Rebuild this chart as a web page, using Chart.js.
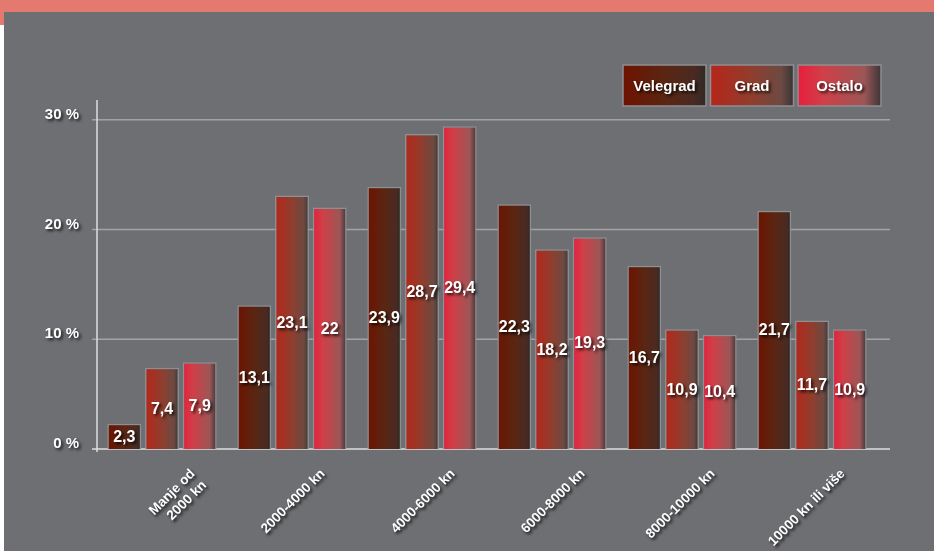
<!DOCTYPE html>
<html>
<head>
<meta charset="utf-8">
<script src="https://cdn.jsdelivr.net/npm/chart.js@4.4.0/dist/chart.umd.min.js"></script>
<style>
    body { margin:0; background:#fff; width:934px; height:551px; overflow:hidden; position:relative; }
    /*gornja traka i ploca grafikona*/
    .traka { position:absolute; left:0; top:0; width:934px; height:12px; background:#e4796f; }
    .rub { position:absolute; left:0; top:0; width:4px; height:25px; background:#e4796f; }
    .ploca { position:absolute; left:4px; top:12px; width:930px; height:539px; background:#6e6f73; }
</style>
</head>
<body>
<div class="traka"></div>
<div class="rub"></div>
<div class="ploca"><canvas id="grafikon" width="930" height="539"></canvas></div>

<script>
const kategorije = [['Manje od', '2000 kn'], '2000-4000 kn', '4000-6000 kn', '6000-8000 kn', '8000-10000 kn', '10000 kn ili više'];
const velegrad = [2.3, 13.1, 23.9, 22.3, 16.7, 21.7];
const grad = [7.4, 23.1, 28.7, 18.2, 10.9, 11.7];
const ostalo = [7.9, 22, 29.4, 19.3, 10.4, 10.9];
const yOznake = [0, 10, 20, 30];

const FONT = '"Liberation Sans", Arial, sans-serif';
// gradijenti stupaca, lijevo -> desno
const boje = [
    [[0, '#6e1300'], [0.5, '#5a2612'], [0.85, '#4a2a22'], [1, '#2f2927']],
    [[0, '#b6261a'], [0.5, '#8f3e2e'], [0.85, '#6c4a42'], [1, '#3a3434']],
    [[0, '#e81e3c'], [0.3, '#cf4048'], [0.8, '#9c5656'], [1, '#3d3537']]
];

function sjena(ctx, on) {
    ctx.shadowColor = on ? 'rgba(0,0,0,0.8)' : 'transparent';
    ctx.shadowOffsetX = on ? 2 : 0;
    ctx.shadowOffsetY = on ? 2 : 0;
    ctx.shadowBlur = on ? 3 : 0;
}

function gradijent(ctx, x0, x1, i) {
    const g = ctx.createLinearGradient(x0, 0, x1, 0);
    boje[i].forEach(s => g.addColorStop(s[0], s[1]));
    return g;
}

const ukrasi = {
    id: 'ukrasi',
    beforeDraw(chart) {
        const ctx = chart.ctx, a = chart.chartArea, y = chart.scales.y;
        const desno = 886;
        ctx.save();
        ctx.lineWidth = 1.5;
        ctx.strokeStyle = '#a2a3a6';
        yOznake.forEach(v => {
            if (v === 0) return;
            const py = y.getPixelForValue(v);
            ctx.beginPath(); ctx.moveTo(a.left - 5, py); ctx.lineTo(desno, py); ctx.stroke();
        });
        ctx.strokeStyle = '#dedede';
        ctx.beginPath(); ctx.moveTo(a.left, a.top); ctx.lineTo(a.left, a.bottom + 3); ctx.stroke();
        const b = y.getPixelForValue(0);
        ctx.beginPath(); ctx.moveTo(a.left - 5, b); ctx.lineTo(desno, b); ctx.stroke();
        ctx.restore();
        sjena(ctx, true);
    },
    beforeDatasetsDraw(chart) {
        const ctx = chart.ctx;
        sjena(ctx, false);
        chart.data.datasets.forEach((ds, i) => {
            chart.getDatasetMeta(i).data.forEach(el => {
                el.options.backgroundColor = gradijent(ctx, el.x - el.width / 2, el.x + el.width / 2, i);
            });
        });
    },
    afterDatasetsDraw(chart) {
        const ctx = chart.ctx;
        ctx.save();
        sjena(ctx, true);
        ctx.fillStyle = '#fff';
        ctx.font = 'bold 16px ' + FONT;
        ctx.textAlign = 'center';
        ctx.textBaseline = 'middle';
        chart.data.datasets.forEach((ds, i) => {
            chart.getDatasetMeta(i).data.forEach((el, j) => {
                ctx.fillText(String(ds.data[j]).replace('.', ','), el.x, (el.y + el.base) / 2 + 1);
            });
        });
        ctx.restore();
    },
    afterDraw(chart) {
        // legenda gore desno
        const ctx = chart.ctx;
        ctx.save();
        sjena(ctx, false);
        chart.data.datasets.forEach((ds, i) => {
            const x = 619 + i * 87.5, y = 53, w = 83, h = 41;
            ctx.fillStyle = gradijent(ctx, x, x + w, i);
            ctx.fillRect(x, y, w, h);
            ctx.strokeStyle = '#8e8f92';
            ctx.lineWidth = 1.5;
            ctx.strokeRect(x, y, w, h);
            ctx.save();
            sjena(ctx, true);
            ctx.fillStyle = '#fff';
            ctx.font = 'bold 15px ' + FONT;
            ctx.textAlign = 'center';
            ctx.textBaseline = 'middle';
            ctx.fillText(ds.label, x + w / 2, y + h / 2 + 1);
            ctx.restore();
        });
        ctx.restore();
        sjena(ctx, false);
    }
};

const rub = '#8e8f92';
new Chart('grafikon', {
    type: 'bar',
    data: {
        labels: kategorije,
        datasets: [
            { label: 'Velegrad', data: velegrad, backgroundColor: () => '#5a2612', borderColor: rub, borderWidth: 1.5 },
            { label: 'Grad', data: grad, backgroundColor: () => '#8f3e2e', borderColor: rub, borderWidth: 1.5 },
            { label: 'Ostalo', data: ostalo, backgroundColor: () => '#cf4048', borderColor: rub, borderWidth: 1.5 }
        ]
    },
    options: {
        responsive: false,
        animation: false,
        categoryPercentage: 0.87,
        barPercentage: 0.9,
        layout: { padding: { left: 0, top: 88, right: 57, bottom: 0 } },
        plugins: { legend: { display: false }, tooltip: { enabled: false } },
        scales: {
            x: {
                grid: { display: false, drawTicks: false },
                border: { display: false },
                ticks: {
                    color: '#fff',
                    font: { family: FONT, weight: 'bold', size: 13.5 },
                    minRotation: 45, maxRotation: 45,
                    labelOffset: 31, padding: 17, autoSkip: false
                },
                afterFit: s => { s.height = 102; }
            },
            y: {
                min: 0, max: 31.8,
                afterBuildTicks: s => { s.ticks = yOznake.map(v => ({ value: v })); },
                grid: { display: false },
                border: { display: false },
                ticks: {
                    color: '#fff',
                    font: { family: FONT, weight: 'bold', size: 15 },
                    padding: 10, labelOffset: -5,
                    callback: v => v + ' %'
                },
                afterFit: s => { s.width = 93; }
            }
        }
    },
    plugins: [ukrasi]
});
</script>
</body>
</html>
